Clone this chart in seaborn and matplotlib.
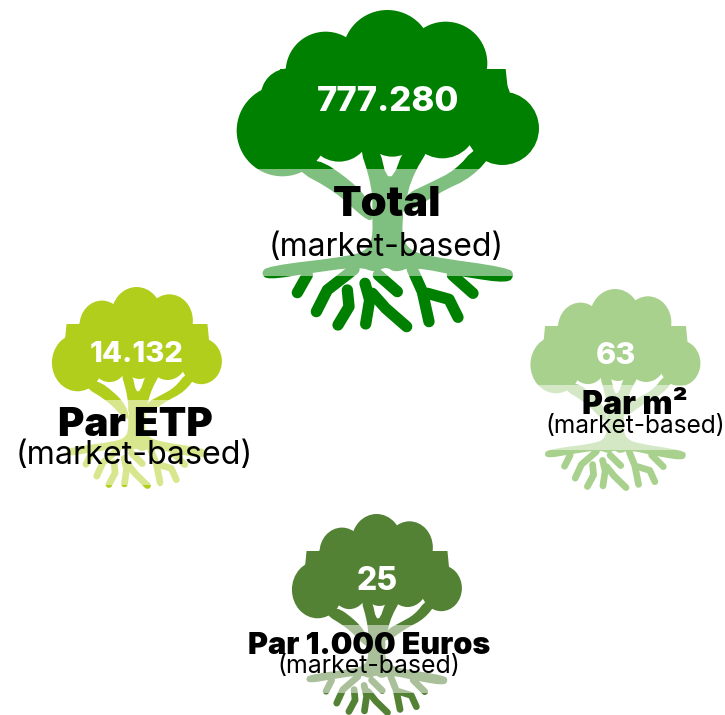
import numpy as np
import pandas as pd
import seaborn as sns
import matplotlib.pyplot as plt
from matplotlib.patches import Ellipse, Polygon, Rectangle

sns.set_theme(style="white")
plt.rcParams['font.family'] = ['Inter', 'DejaVu Sans']

# chart content
names = ["Total", "Par ETP", "Par m²", "Par 1.000 Euros"]
values = ["777.280", "14.132", "63", "25"]
sub_label = "(market-based)"
colors = ["#008000", "#B2CE1D", "#A9D18E", "#548235"]

# tree shape, drawn once in its own units (crown 33..940 wide, 30..995 high)
CROWN = [(485, 165, 135), (300, 215, 120), (660, 190, 125), (190, 290, 85),
         (170, 392, 137), (830, 385, 110), (340, 390, 95), (500, 380, 90),
         (650, 370, 105), (760, 300, 95)]
WOOD = [
    [(200, 505), (270, 470), (380, 545), (432, 605), (445, 660), (420, 660), (330, 575)],
    [(395, 420), (455, 420), (490, 565), (545, 420), (625, 420), (550, 545), (535, 660), (440, 660), (440, 560)],
    [(750, 440), (690, 510), (610, 550), (535, 585), (530, 650), (640, 578), (740, 532), (810, 450)],
    [(438, 620), (535, 620), (528, 700), (545, 745), (600, 768), (850, 803), (866, 825), (848, 850),
     (720, 832), (560, 800), (510, 818), (480, 800), (450, 818), (400, 800), (250, 820), (125, 840),
     (106, 820), (125, 798), (380, 768), (430, 745), (442, 700)],
]
ROOTS = [
    [(245, 825), (215, 878)],
    [(385, 808), (305, 870), (272, 935)],
    [(365, 870), (370, 920), (337, 975)],
    [(418, 850), (432, 900), (420, 972)],
    [(458, 825), (515, 875)],
    [(440, 880), (480, 925), (543, 980)],
    [(560, 808), (590, 875), (610, 965)],
    [(605, 880), (670, 898), (697, 952)],
    [(680, 825), (742, 880)],
]

# placement of the four trees in pixels: centre x, top, x scale, y scale, band top, band bottom, box left, box right
PLACES = [
    (388, 10, 0.3333, 0.3333, 169, 276, 163, 840),
    (137, 287, 0.1874, 0.209, 400, 485, 111, 863),
    (615.5, 289, 0.1874, 0.209, 385, 450, 111, 863),
    (377, 514, 0.1874, 0.209, 625, 693, 111, 863),
]
# name y, name size, sub y, sub size, name x, sub x
TEXTS = [
    (205, 30, 247, 23, 387, 386),
    (426, 29, 456, 23.2, 135, 134),
    (406, 23, 427, 17.6, 635, 635),
    (646, 22, 667, 17.9, 369, 369),
]
VALUE_Y = [102, 354, 356, 581]
VALUE_SIZE = [25, 21, 22, 23]


def smooth(pts, rounds=2):
    # corner cutting so the wood has no hard angles
    pts = np.array(pts, dtype=float)
    for _ in range(rounds):
        nxt = np.roll(pts, -1, axis=0)
        pts = np.column_stack([0.75 * pts + 0.25 * nxt, 0.25 * pts + 0.75 * nxt]).reshape(-1, 2)
    return pts


def draw_tree(ax, color, place):
    cx, top, sx, sy, band_top, band_bottom, box_l, box_r = place

    def to_px(pts):
        pts = np.array(pts, dtype=float)
        return np.column_stack([cx + (pts[:, 0] - 487) * sx, top + (pts[:, 1] - 30) * sy])

    for x, y, r in CROWN:
        px = to_px([(x, y)])[0]
        ax.add_patch(Ellipse(px, 2 * r * sx, 2 * r * sy, color=color, lw=0))
    crown_box = [(box_l, 207), (box_r, 207), (box_r + 10, 300), (860, 420), (160, 420), (box_l - 10, 300)]
    ax.add_patch(Polygon(to_px(crown_box), color=color, lw=0))
    for part in WOOD:
        ax.add_patch(Polygon(to_px(smooth(part)), color=color, lw=0))

    rows = []
    for i, root in enumerate(ROOTS):
        for x, y in to_px(root):
            rows.append({"root": i, "x": x, "y": y})
    sns.lineplot(data=pd.DataFrame(rows), x="x", y="y", units="root", estimator=None, sort=False,
                 color=color, linewidth=34 * (sx + sy) / 2 * 0.72, solid_capstyle="round",
                 solid_joinstyle="round", ax=ax)

    # pale band across the middle of the tree
    ax.add_patch(Rectangle((cx - 170, band_top), 340, band_bottom - band_top,
                           facecolor="white", alpha=0.5, lw=0, zorder=3))


fig = plt.figure(figsize=(7.25, 7.15), dpi=100)
ax = fig.add_axes([0, 0, 1, 1])

for i, name in enumerate(names):
    draw_tree(ax, colors[i], PLACES[i])
    name_y, name_size, sub_y, sub_size, name_x, sub_x = TEXTS[i]
    ax.text(PLACES[i][0], VALUE_Y[i], values[i], color="white", fontsize=VALUE_SIZE[i],
            fontweight=800, ha="center", va="center", zorder=5)
    ax.text(name_x, name_y, name, color="black", fontsize=name_size, fontweight="black",
            ha="center", va="center", zorder=5)
    ax.text(sub_x, sub_y, sub_label, color="black", fontsize=sub_size, fontweight="normal",
            ha="center", va="center", zorder=5)

ax.set_xlim(0, 725)
ax.set_ylim(715, 0)
ax.axis("off")

fig.savefig("out.png", dpi=100)
